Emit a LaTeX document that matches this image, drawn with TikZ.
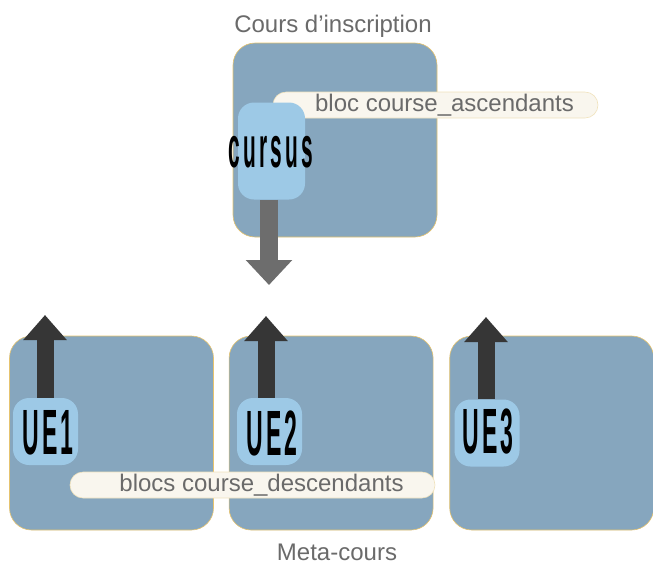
\documentclass[tikz,border=0pt]{standalone}
\usepackage{fontspec}
\usepackage{graphicx}
\setmainfont{Liberation Sans}
\usetikzlibrary{arrows.meta,positioning}

% spaced, squeezed letters for the block names
\newcommand{\lgap}{\hspace{4.5pt}}
\newcommand{\squeezed}[2]{\scalebox{#1}[1]{\bfseries #2}}

\begin{document}
\begin{tikzpicture}[x=0.5pt,y=-0.5pt,
  course/.style={fill=boxblue, draw=edgegold, line width=0.3pt, rounded corners=11pt,
    minimum width=102pt, minimum height=97pt, inner sep=0pt},
  member/.style={fill=paleblue, rounded corners=8pt, inner sep=0pt},
  pill/.style={fill=pillcream, draw=pilledge, line width=0.3pt, rounded corners=6.5pt,
    minimum height=13pt, inner sep=0pt, font=\fontsize{12}{12}\selectfont, text=labelgrey},
  caption/.style={font=\fontsize{12}{14}\selectfont, text=labelgrey},
  tallname/.style={inner sep=0pt, text=black},
  climb/.style={uparrow, line width=8.5pt, -{Triangle[width=21pt,length=12.5pt]}}]

% Colours
\definecolor{boxblue}{HTML}{86A6BE}
\definecolor{paleblue}{HTML}{9DC9E6}
\definecolor{pillcream}{HTML}{F9F6EE}
\definecolor{edgegold}{HTML}{E6C36E}
\definecolor{pilledge}{HTML}{F0E2BC}
\definecolor{labelgrey}{HTML}{6A6A6A}
\definecolor{uparrow}{HTML}{363636}
\definecolor{downarrow}{HTML}{6D6D6D}

\useasboundingbox (0,0) rectangle (653,564);

% COURS D'INSCRIPTION
\node[caption, anchor=base] (inscriptiontitle) at (333,32) {Cours d'inscription};
\node[course] (inscription) at (335,140) {};
\node[pill, minimum width=162.5pt] (ascbloc) at (435.5,105) {\hspace*{9pt}bloc course\_ascendants};
\node[member, minimum width=33.5pt, minimum height=48.5pt] (cursus) at (271.5,151) {};
\node[tallname] (cursuslabel) at (271,152)
  {\squeezed{0.36}{\fontsize{29}{29}\selectfont c\lgap u\lgap r\lgap s\lgap u\lgap s}};

% Down arrow
\coordinate (downtip) at (269,285);
\draw[downarrow, line width=9pt, -{Triangle[width=22.5pt,length=12.5pt]}]
  (cursus.south -| downtip) -- (downtip);

% META-COURS
\node[course] (metaA) at (111.5,433) {};
\node[course, right=7.5pt of metaA] (metaB) {};
\node[course, right=8pt of metaB] (metaC) {};
\node[caption, anchor=base] (metatitle) at (337,560) {Meta-cours};

\node[pill, minimum width=182.5pt] (descbloc) at (252.5,485) {\hspace*{9pt}blocs course\_descendants};

% UE blocks
\node[member, minimum width=32.5pt, minimum height=33.5pt] (ueA) at (45.5,431.5) {};
\node[member, minimum width=32.5pt, minimum height=33.5pt] (ueB) at (269.5,431.5) {};
\node[member, minimum width=32.5pt, minimum height=33.5pt] (ueC) at (487,433) {};
\node[tallname] (ueAlabel) at (48,433)
  {\squeezed{0.36}{\fontsize{32}{32}\selectfont U\lgap E\lgap 1}};
\node[tallname] (ueBlabel) at (272,433)
  {\squeezed{0.36}{\fontsize{32}{32}\selectfont U\lgap E\lgap 2}};
\node[tallname] (ueClabel) at (488,432)
  {\squeezed{0.36}{\fontsize{32}{32}\selectfont U\lgap E\lgap 3}};

% Up arrows
\coordinate (uptipA) at (45,315);
\coordinate (uptipB) at (266,316);
\coordinate (uptipC) at (486,317);
\draw[climb] (ueA.north -| uptipA) -- (uptipA);
\draw[climb] (ueB.north -| uptipB) -- (uptipB);
\draw[climb] (ueC.north -| uptipC) -- (uptipC);

\end{tikzpicture}
\end{document}
